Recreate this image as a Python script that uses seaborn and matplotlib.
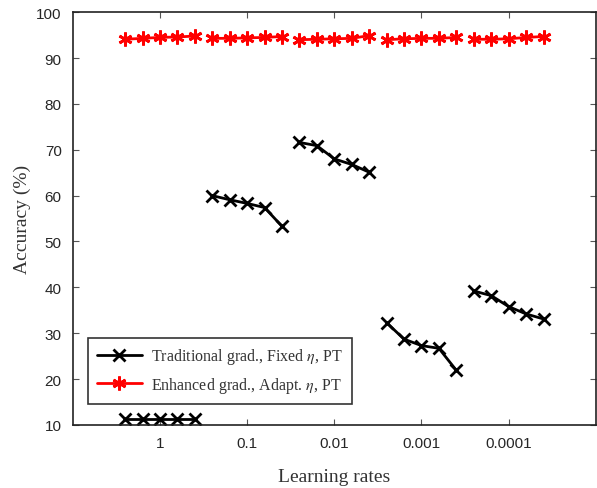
import numpy as np
import pandas as pd
import matplotlib
matplotlib.use("Agg")
import matplotlib.pyplot as plt
import seaborn as sns
from matplotlib.lines import Line2D

# learning-rate groups shown on the x axis
lr_labels = ["1", "0.1", "0.01", "0.001", "0.0001"]

# five runs per learning rate (accuracy, %)
trad_acc = [
    [11.2, 11.2, 11.2, 11.2, 11.2],
    [60.0, 59.1, 58.3, 57.4, 53.3],
    [71.6, 70.9, 68.0, 66.8, 65.1],
    [32.3, 28.7, 27.3, 26.7, 21.9],
    [39.2, 38.2, 35.8, 34.2, 33.1],
]
enh_acc = [
    [94.1, 94.3, 94.5, 94.6, 94.8],
    [94.3, 94.3, 94.4, 94.5, 94.7],
    [94.0, 94.1, 94.2, 94.3, 94.9],
    [94.0, 94.2, 94.3, 94.3, 94.5],
    [94.1, 94.1, 94.2, 94.5, 94.7],
]

name_trad = r"Traditional grad., Fixed $\eta$, PT"
name_enh = r"Enhanced grad., Adapt. $\eta$, PT"

rows = []
for g in range(len(lr_labels)):
    for k in range(5):
        x = g + 1 + (k - 2) * 0.2
        rows.append({"x": x, "acc": trad_acc[g][k], "method": name_trad, "grp": g})
        rows.append({"x": x, "acc": enh_acc[g][k], "method": name_enh, "grp": g})
df = pd.DataFrame(rows)

sns.set_style("ticks")
plt.rcParams["mathtext.fontset"] = "stix"

fig = plt.figure(figsize=(5.97, 4.89), dpi=100)
ax = fig.add_axes([0.122, 0.129, 0.876, 0.844])

styles = {
    name_trad: dict(color="black", marker="x", markersize=8),
    name_enh: dict(color="red", marker=(6, 2, 0), markersize=10),
}
for name, st in styles.items():
    sub = df[df["method"] == name]
    sns.lineplot(data=sub, x="x", y="acc", units="grp", estimator=None,
                 color=st["color"], marker=st["marker"], markersize=st["markersize"],
                 markeredgecolor=st["color"], markeredgewidth=2, linewidth=2,
                 ax=ax, legend=False)

ax.set_xlim(0, 6)
ax.set_ylim(10, 100)
ax.set_xticks(range(1, len(lr_labels) + 1))
ax.set_xticklabels(lr_labels)
ax.set_yticks(range(10, 101, 10))
ax.tick_params(direction="in", top=True, right=True, length=4, color="#555555",
               labelsize=11, pad=8)
for lab in ax.get_xticklabels() + ax.get_yticklabels():
    lab.set_fontfamily("Liberation Sans")
for sp in ax.spines.values():
    sp.set_visible(True)
    sp.set_linewidth(1.2)
    sp.set_color("#222222")

ax.set_xlabel("Learning rates", family="Liberation Serif", fontsize=14, color="#333333")
ax.set_ylabel("Accuracy (%)", family="Liberation Serif", fontsize=14, color="#333333")
ax.xaxis.set_label_coords(0.5, -0.125)
ax.yaxis.set_label_coords(-0.097, 0.5)
ax.yaxis.label.set_va("center")
ax.xaxis.label.set_va("center")

handles = [
    Line2D([], [], color="black", marker="x", lw=2, ms=8, mew=2),
    Line2D([], [], color="red", marker=(6, 2, 0), lw=2, ms=10, mew=2),
]
leg = ax.legend(handles, [name_trad, name_enh], loc="lower left",
                bbox_to_anchor=(0.029, 0.051), borderaxespad=0, frameon=True,
                fancybox=False, edgecolor="black", handlelength=2.8,
                labelspacing=0.55, handletextpad=0.6, borderpad=0.55,
                prop={"family": "Liberation Serif", "size": 11.5})
leg.get_frame().set_linewidth(1.2)
for t in leg.get_texts():
    t.set_color("#333333")

fig.savefig("out.png", dpi=100)
